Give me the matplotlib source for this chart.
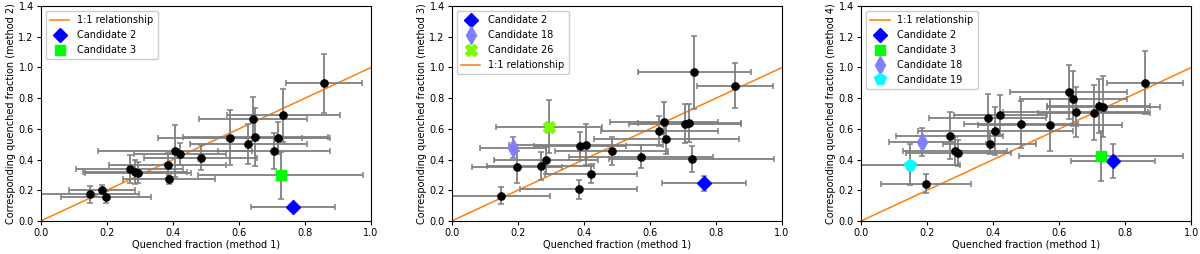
import matplotlib
matplotlib.use("Agg")
import matplotlib.pyplot as plt
import numpy as np

# Shared x (method 1) values and errors; last two entries: Candidate 3, Candidate 2
x_m1 = [0.149, 0.185, 0.197, 0.269, 0.285, 0.295, 0.384, 0.389, 0.407, 0.422,
        0.484, 0.572, 0.629, 0.643, 0.650, 0.706, 0.719, 0.734, 0.859, 0.726, 0.763]
xerr_m1 = [0.150, 0.100, 0.137, 0.162, 0.157, 0.160, 0.177, 0.140, 0.234, 0.140,
           0.172, 0.218, 0.177, 0.163, 0.220, 0.170, 0.156, 0.171, 0.115, 0.249, 0.127]

y_m2 = [0.174, 0.204, 0.158, 0.339, 0.319, 0.315, 0.362, 0.271, 0.458, 0.436,
        0.412, 0.543, 0.499, 0.666, 0.549, 0.456, 0.543, 0.688, 0.896, 0.297, 0.093]
yerr_m2 = [0.057, 0.030, 0.040, 0.090, 0.076, 0.070, 0.083, 0.030, 0.170, 0.072,
           0.080, 0.180, 0.130, 0.142, 0.189, 0.115, 0.105, 0.173, 0.192, 0.152, 0.010]

y_m3 = [0.165, 0.478, 0.354, 0.358, 0.395, 0.614, 0.206, 0.490, 0.497, 0.308,
        0.458, 0.419, 0.584, 0.643, 0.534, 0.632, 0.640, 0.968, 0.881, 0.402, 0.245]
yerr_m3 = [0.057, 0.070, 0.105, 0.090, 0.090, 0.174, 0.060, 0.092, 0.135, 0.062,
           0.092, 0.076, 0.098, 0.130, 0.100, 0.127, 0.123, 0.239, 0.146, 0.084, 0.047]

y_m4 = [0.367, 0.514, 0.243, 0.556, 0.456, 0.445, 0.671, 0.504, 0.588, 0.692,
        0.629, 0.623, 0.840, 0.797, 0.712, 0.705, 0.749, 0.745, 0.901, 0.421, 0.391]
yerr_m4 = [0.132, 0.089, 0.063, 0.155, 0.090, 0.085, 0.156, 0.068, 0.156, 0.132,
           0.152, 0.170, 0.174, 0.180, 0.163, 0.180, 0.174, 0.200, 0.204, 0.163, 0.108]

x_ticks = [0.0, 0.2, 0.4, 0.6, 0.8, 1.0]
y_ticks = [0.0, 0.2, 0.4, 0.6, 0.8, 1.0, 1.2, 1.4]

# candidate styles: index -> (label, marker, color, size)
cand_style = {
    20: ("Candidate 2", "D", "#0000ff", 7),
    19: ("Candidate 3", "s", "#00ff00", 7),
    1: ("Candidate 18", "d", "#8080ff", 9),
    0: ("Candidate 19", "p", "#00ffff", 8.5),
    5: ("Candidate 26", "X", "#7cfc00", 9),
}

panels = [
    (y_m2, yerr_m2, "Corresponding quenched fraction (method 2)", [20, 19], "line_first"),
    (y_m3, yerr_m3, "Corresponding quenched fraction (method 3)", [20, 1, 5], "line_last"),
    (y_m4, yerr_m4, "Corresponding quenched fraction (method 4)", [20, 19, 1, 0], "line_first"),
]

fig = plt.figure(figsize=(12, 2.54), dpi=100)
lefts = [0.0339, 0.3764, 0.7175]
width = 0.2753
fs = 7

for left, (yv, ye, ylabel, cands, order) in zip(lefts, panels):
    ax = fig.add_axes([left, 0.130, width, 0.846])
    ax.errorbar(x_m1, yv, xerr=xerr_m1, yerr=ye, fmt="none", ecolor="#7f7f7f",
                elinewidth=1.3, capsize=2.0, capthick=1.1, zorder=2)
    line, = ax.plot([0, 1], [0, 1], color="#ff7f0e", lw=1.1, zorder=1,
                    label="1:1 relationship")
    black = [i for i in range(len(x_m1)) if i not in cands]
    ax.plot([x_m1[i] for i in black], [yv[i] for i in black], "o", color="black",
            ms=5.2, zorder=3, ls="none")
    handles = []
    for c in cands:
        lab, mk, col, ms = cand_style[c]
        h, = ax.plot([x_m1[c]], [yv[c]], mk, color=col, ms=ms, ls="none",
                     zorder=4, label=lab)
        handles.append(h)
    if order == "line_first":
        handles = [line] + handles
    else:
        handles = handles + [line]
    ax.legend(handles=handles, loc="upper left", fontsize=fs, framealpha=1,
              borderpad=0.45, labelspacing=0.5, handlelength=2.0)
    ax.set_xlim(0, 1)
    ax.set_ylim(0, 1.4)
    ax.set_xticks(x_ticks)
    ax.set_yticks(y_ticks)
    ax.tick_params(labelsize=fs, length=3, pad=2)
    ax.set_xlabel("Quenched fraction (method 1)", fontsize=fs, labelpad=1)
    ax.set_ylabel(ylabel, fontsize=fs, labelpad=2)

fig.savefig("out.png", dpi=100)
